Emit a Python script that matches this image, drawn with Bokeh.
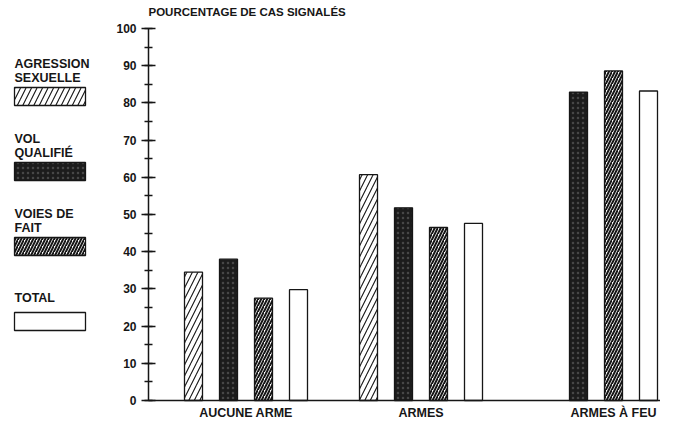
from bokeh.plotting import figure
from bokeh.models import (Range1d, FixedTicker, SingleIntervalTicker, ColumnDataSource,
                          LinearAxis)
from bokeh.core.properties import value
from bokeh.embed import file_html
from bokeh.resources import INLINE

groups = ["AUCUNE ARME", "ARMES", "ARMES À FEU"]
series = ["AGRESSION\nSEXUELLE", "VOL\nQUALIFIÉ", "VOIES DE\nFAIT", "TOTAL"]
agression = [34.5, 60.7, None]
vol = [38.0, 51.8, 82.9]
voies = [27.5, 46.5, 88.6]
total = [29.8, 47.6, 83.2]
y_ticks_interval = 10
y_max = 100
title_text = "POURCENTAGE DE CAS SIGNALÉS"

values = [agression, vol, voies, total]
FONT = "Liberation Sans"
INK = "#161616"

W, H = 660, 420
# layout (pixels): slot width, first bar centre, y-axis position, y=0 / y=max rows
SLOT_PX, X0_PX, AXIS_PX = 35.0, 193.0, 148.0
Y0_PX, YMAX_PX = 400.0, 28.0
ypx = (Y0_PX - YMAX_PX) / y_max


def dx(px):
    return (px - X0_PX) / SLOT_PX


def dy(py):
    return (Y0_PX - py) / ypx


styles = [
    dict(fill_color="white", hatch_pattern="/", hatch_scale=11, hatch_weight=1.1, hatch_color=INK),
    dict(fill_color="#1c1c1c", hatch_pattern=".", hatch_scale=5, hatch_weight=0.6,
         hatch_color="#888888", hatch_alpha=0.4),
    dict(fill_color="white", hatch_pattern="/", hatch_scale=6, hatch_weight=2.0, hatch_color=INK),
    dict(fill_color="white"),
]

stride = len(series) + 1
bar_w = 18 / SLOT_PX

p = figure(width=W, height=H, output_backend="svg", toolbar_location=None,
           x_range=Range1d(dx(0), dx(W)), y_range=Range1d(dy(H), dy(0)),
           x_axis_location=None, y_axis_location=None, min_border=0)
p.outline_line_color = None
p.grid.visible = False

for s, vals in enumerate(values):
    xs, tops = [], []
    for g, v in enumerate(vals):
        if v is None:
            continue
        xs.append(g * stride + s)
        tops.append(v)
    src = ColumnDataSource(dict(x=xs, top=tops))
    p.vbar(x="x", top="top", bottom=0, width=bar_w, source=src,
           line_color=INK, line_width=1.3, **styles[s])

# x axis: category labels centred under the bars present in each group
label_pos = []
for g in range(len(groups)):
    present = [g * stride + s for s, vals in enumerate(values) if vals[g] is not None]
    label_pos.append(sum(present) / len(present))
xa = LinearAxis(fixed_location=0, bounds=(dx(AXIS_PX), dx(W)))
xa.ticker = FixedTicker(ticks=label_pos)
xa.major_label_overrides = {pos: name for pos, name in zip(label_pos, groups)}
xa.major_tick_line_color = None
xa.minor_tick_line_color = None
xa.major_tick_out = 0
xa.major_tick_in = 0
xa.major_label_standoff = 5
xa.major_label_text_font = FONT
xa.major_label_text_font_size = "12.5px"
xa.major_label_text_font_style = "bold"
xa.major_label_text_color = INK
xa.axis_line_color = INK
xa.axis_line_width = 1.5
p.add_layout(xa, "below")

ya = LinearAxis(fixed_location=dx(AXIS_PX), bounds=(0, y_max))
ya.ticker = SingleIntervalTicker(interval=y_ticks_interval, num_minor_ticks=2)
ya.major_tick_in = 7
ya.major_tick_out = 7
ya.minor_tick_in = 4
ya.minor_tick_out = 4
ya.major_tick_line_color = INK
ya.minor_tick_line_color = INK
ya.major_tick_line_width = 1.5
ya.minor_tick_line_width = 1.5
ya.axis_line_color = INK
ya.axis_line_width = 1.5
ya.major_label_standoff = 5
ya.major_label_text_font = FONT
ya.major_label_text_font_size = "12px"
ya.major_label_text_font_style = "bold"
ya.major_label_text_color = INK
p.add_layout(ya, "left")

# title above the y axis
p.text(x=[dx(AXIS_PX)], y=[dy(11)], text=[title_text], text_font=value(FONT),
       text_font_size="11.5px", text_font_style="bold", text_color=INK,
       text_baseline="alphabetic", text_align="left")

# legend panel on the left
step_px = 75
first_top_px = 87
sw_left_px, sw_right_px, sw_h_px = 14, 85, 18
for i, name in enumerate(series):
    top = first_top_px + i * step_px
    lines = name.split("\n")
    n = len(lines)
    gap = 10 if n > 1 else 15
    for j, line in enumerate(lines):
        base = top - gap - (n - 1 - j) * 14
        p.text(x=[dx(sw_left_px)], y=[dy(base)], text=[line], text_font=value(FONT),
               text_font_size="12.5px", text_font_style="bold", text_color=INK,
               text_baseline="alphabetic", text_align="left")
    p.quad(left=[dx(sw_left_px)], right=[dx(sw_right_px)], top=[dy(top)],
           bottom=[dy(top + sw_h_px)], line_color=INK, line_width=1.3, **styles[i])

open("out.html", "w").write(file_html(p, INLINE))
